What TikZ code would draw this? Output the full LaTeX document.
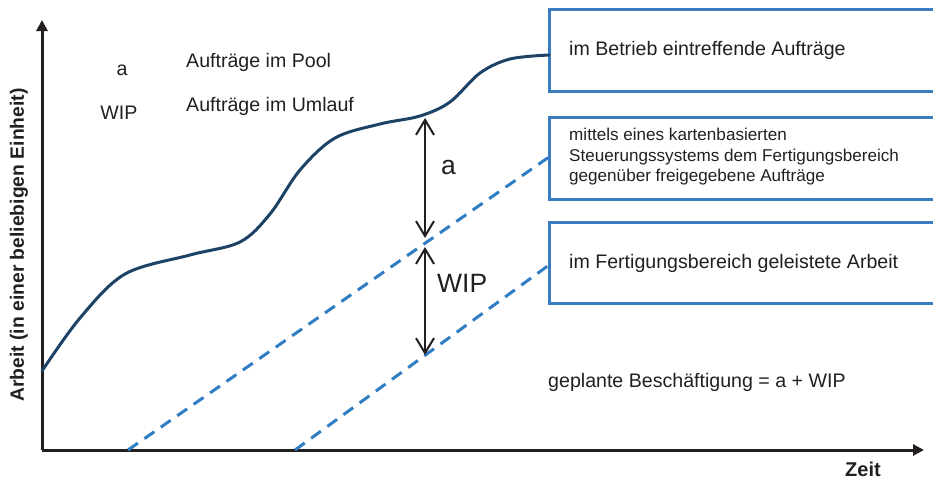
\documentclass[tikz,border=0pt]{standalone}
\usepackage{fontspec}
\setmainfont{Liberation Sans}
\usetikzlibrary{arrows.meta}
\definecolor{navy}{HTML}{1C4266}
\definecolor{dblue}{HTML}{2F7DC3}
\definecolor{bblue}{HTML}{3A7CBF}
\definecolor{tgray}{HTML}{231F20}
\tikzset{
  axis/.style={line width=3pt, tgray, -{Triangle[length=11pt,width=11pt]}},
  boxline/.style={line width=3pt, bblue},
  dashline/.style={line width=3pt, dblue, dash pattern=on 12pt off 8pt},
  dimarrow/.style={line width=2pt, tgray, {Straight Barb[length=15pt,width=18pt]}-{Straight Barb[length=15pt,width=18pt]}},
  txt/.style={inner sep=0pt, text=tgray, anchor=west},
  big/.style={font=\fontsize{19.6}{23}\selectfont},
}
\begin{document}
\begin{tikzpicture}[x=1pt,y=-1pt]
\useasboundingbox (0,0) rectangle (933,479);
% axes
\coordinate (O) at (42,450);
\coordinate (ytip) at (42,20);
\coordinate (xtip) at (924,450);
\draw[axis] (O) -- (ytip);
\draw[axis] (O) -- (xtip);
\node[font=\bfseries\fontsize{19.3}{23}\selectfont, text=tgray, rotate=90] (ylab) at (19,245) {Arbeit (in einer beliebigen Einheit)};
\node[font=\bfseries\fontsize{20}{23}\selectfont, text=tgray] (xlab) at (863,469) {Zeit};
% boxes
\draw[boxline] (945,9) -| (549,91) -- (945,91);
\draw[boxline] (945,117) -| (549,199) -- (945,199);
\draw[boxline] (945,222) -| (549,303) -- (945,303);
\node[txt, big] (b1) at (569,50) {im Betrieb eintreffende Aufträge};
\node[txt, font=\fontsize{17.1}{20.5}\selectfont, align=left] (b2) at (569,157) {mittels eines kartenbasierten\\Steuerungssystems dem Fertigungsbereich\\gegenüber freigegebene Aufträge};
\node[txt, big] (b3) at (569,263) {im Fertigungsbereich geleistete Arbeit};
% curve
\coordinate (c0) at (42,371);
\coordinate (c1) at (549,55);
\draw[line width=3pt, navy, line cap=round] plot[smooth, tension=0.55] coordinates {(42,371) (80,318) (125,274) (190,255) (240,242) (270,214) (300,170) (335,138) (380,124) (420,116) (450,102) (480,73) (510,59) (549,55)};
% dashed lines
\coordinate (d1s) at (128,450);
\coordinate (d1e) at (549,157);
\coordinate (d2s) at (295,450);
\coordinate (d2e) at (549,265);
\draw[dashline] (d1s) -- (d1e);
\draw[dashline] (d2s) -- (d2e);
% dimension arrows
\coordinate (a1) at (425,118);
\coordinate (a2) at (425,238);
\coordinate (w1) at (425,247);
\coordinate (w2) at (425,355);
\draw[dimarrow] (a1) -- (a2);
\draw[dimarrow] (w1) -- (w2);
\node[txt, font=\fontsize{26.5}{30}\selectfont] (la) at (441,167) {a};
\node[txt, font=\fontsize{26.5}{30}\selectfont] (lw) at (437,283) {WIP};
% legend
\node[txt, big, anchor=center] (ka) at (122,70) {a};
\node[txt, big, anchor=center] (kw) at (119,113) {WIP};
\node[txt, big] (kpa) at (186,62) {Aufträge im Pool};
\node[txt, big] (kpw) at (186,106) {Aufträge im Umlauf};
\node[txt, big] (geq) at (548,382) {geplante Beschäftigung = a + WIP};
\end{tikzpicture}
\end{document}
